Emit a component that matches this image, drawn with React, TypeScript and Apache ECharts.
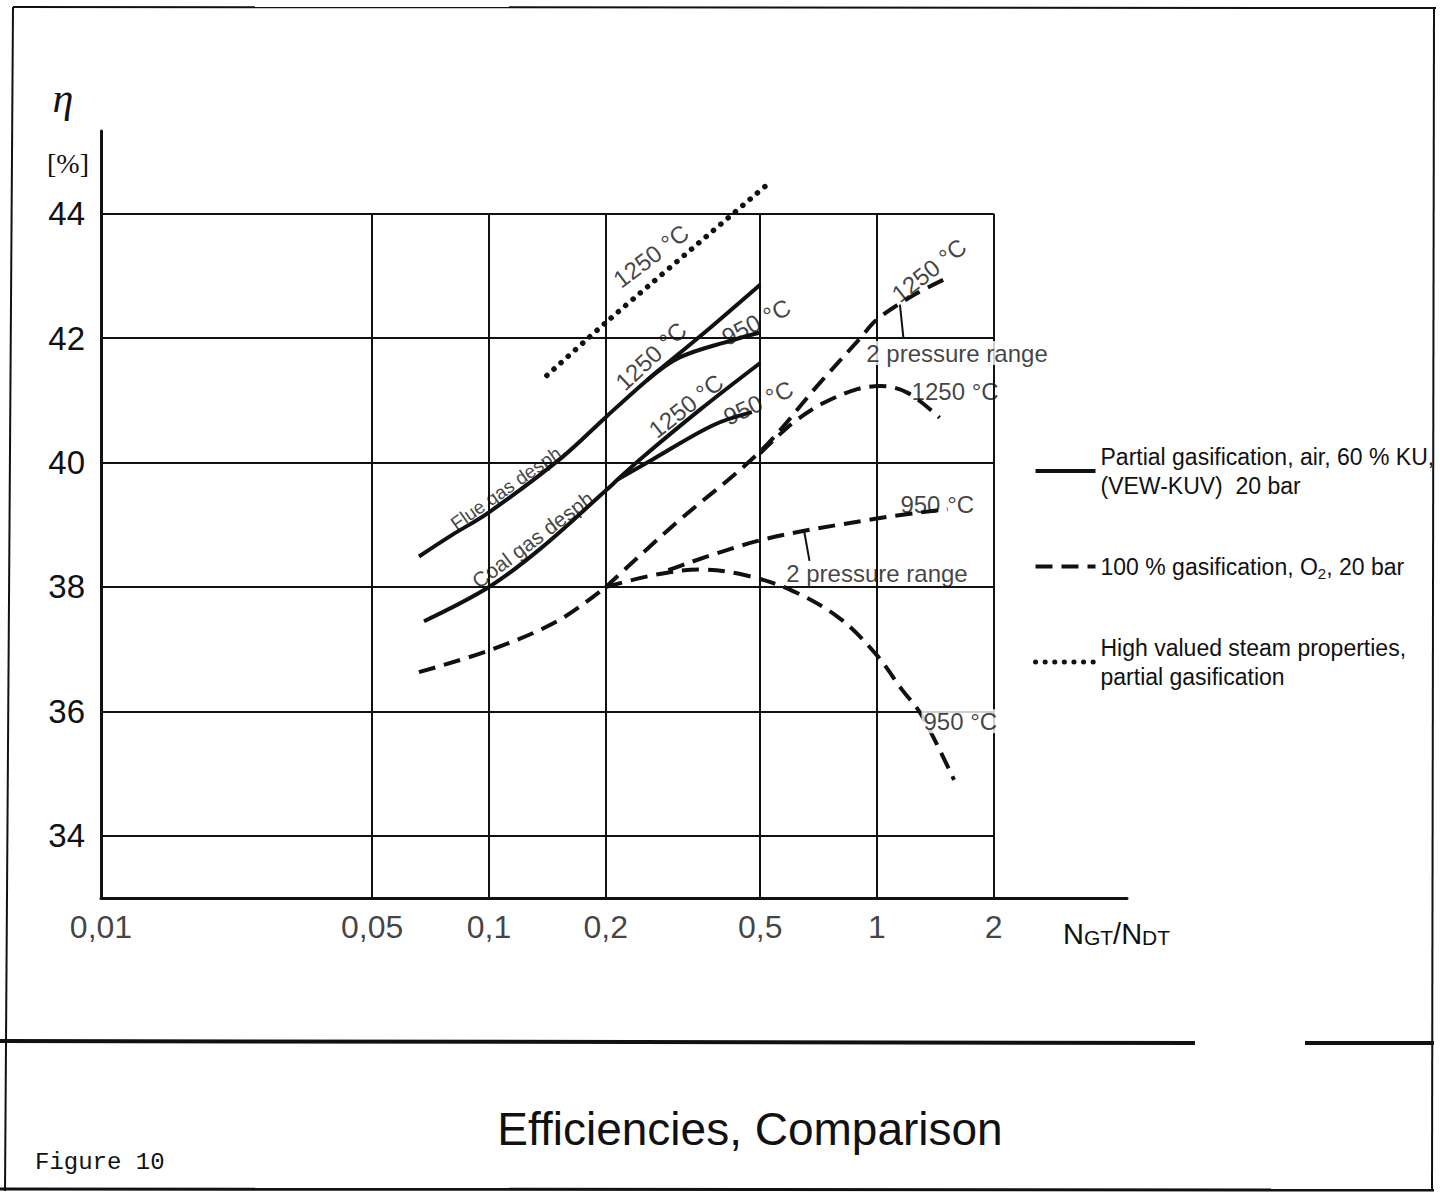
import React, { useEffect, useRef } from 'react';
import * as echarts from 'echarts';

// ---------- axes ----------
const X_TICKS = [0.01, 0.05, 0.1, 0.2, 0.5, 1, 2];
const X_TICK_LABELS = ['0,01', '0,05', '0,1', '0,2', '0,5', '1', '2'];
const Y_TICKS = [34, 36, 38, 40, 42, 44];
const X_MIN = 0.01;
const X_MAX = 4.41;
const Y_MIN = 33;
const Y_MAX = 45.33;

// ---------- legend ----------
const LEGEND_NAMES = [
  'Partial gasification, air, 60 % KU, (VEW-KUV) 20 bar',
  '100 % gasification, O2, 20 bar',
  'High valued steam properties, partial gasification',
];
const LEGEND_TEXTS = [
  'Partial gasification, air, 60 % KU,\n(VEW-KUV)  20 bar',
  '100 % gasification, O{sub|2}, 20 bar',
  'High valued steam properties,\npartial gasification',
];

// ---------- series values [N_GT/N_DT, eta %] ----------
// partial gasification, air (solid)
const flueGas1250 = [[0.066, 38.49], [0.08, 38.83], [0.1, 39.2], [0.154, 40.08], [0.2, 40.73], [0.255, 41.32], [0.35, 42.03], [0.5, 42.86]];
const flueGas950 = [[0.255, 41.32], [0.31, 41.69], [0.42, 41.96], [0.5, 42.09]];
const coalGas1250 = [[0.068, 37.45], [0.1, 38.0], [0.136, 38.62], [0.2, 39.55], [0.215, 39.73], [0.245, 40.05], [0.35, 40.85], [0.5, 41.6]];
const coalGas950 = [[0.215, 39.73], [0.264, 40.05], [0.378, 40.6], [0.476, 40.81]];
// 100 % gasification, O2 (dashed)
const o2Base = [[0.066, 36.63], [0.1, 36.98], [0.15, 37.45], [0.2, 38.0]];
const o2Pressure1250 = [[0.2, 38.0], [0.3, 39.0], [0.5, 40.18], [0.71, 41.27], [0.9, 41.98], [1.0, 42.3], [1.25, 42.7], [1.52, 42.97]];
const o2Temp1250 = [[0.5, 40.15], [0.55, 40.4], [0.62, 40.68], [0.73, 40.96], [0.89, 41.18], [1.02, 41.23], [1.2, 41.12], [1.45, 40.72]];
const o2Temp950 = [[0.2, 38.0], [0.27, 38.2], [0.35, 38.28], [0.45, 38.2], [0.6, 37.95], [0.8, 37.5], [1.0, 36.9], [1.16, 36.35], [1.3, 35.95], [1.58, 34.9]];
const o2Pressure950 = [[0.29, 38.27], [0.5, 38.75], [1.0, 39.1], [1.52, 39.25]];
// high valued steam properties (dotted)
const steam1250 = [[0.141, 41.4], [0.2, 42.25], [0.524, 44.48]];

// ---------- annotations (text, anchor in data units, rotation) ----------
const ANNOTATIONS = [
  { text: '1250 °C', at: [0.2615, 43.32], rotate: 37, size: 24 },
  { text: '1250 °C', at: [0.2615, 41.71], rotate: 43, size: 24 },
  { text: '950 °C', at: [0.488, 42.26], rotate: 27, size: 24 },
  { text: '1250 °C', at: [0.322, 40.91], rotate: 38, size: 24 },
  { text: '950 °C', at: [0.494, 40.96], rotate: 25, size: 24 },
  { text: 'Flue gas desph.', at: [0.112, 39.61], rotate: 35, size: 19 },
  { text: 'Coal gas desph.', at: [0.1314, 38.79], rotate: 37, size: 21 },
  { text: '1250 °C', at: [1.362, 43.09], rotate: 38, size: 24 },
  { text: '2 pressure range', at: [1.608, 41.76], rotate: 0, size: 24, bg: true },
  { text: '1250 °C', at: [1.59, 41.15], rotate: 0, size: 24 },
  { text: '950 °C', at: [1.43, 39.33], rotate: 0, size: 24 },
  { text: '2 pressure range', at: [1.0, 38.22], rotate: 0, size: 24 },
  { text: '950 °C', at: [1.64, 35.84], rotate: 0, size: 24, bg: true },
];
const LEADERS = [
  [[1.146, 42.54], [1.17, 42.0]],
  [[0.65, 38.88], [0.67, 38.42]],
];

const INK = '#111';
const SANS = '"Liberation Sans", Arial, Helvetica, sans-serif';

export default function App() {
  const ref = useRef<HTMLDivElement>(null);
  useEffect(() => {
    if (!ref.current) return;
    const chart = echarts.init(ref.current, undefined, { renderer: 'svg' });

    const solid = (data: number[][]) => ({
      type: 'line', name: LEGEND_NAMES[0], data, smooth: 0.35, symbol: 'none', z: 5,
      lineStyle: { color: INK, width: 4 }, itemStyle: { color: INK },
    });
    const dashed = (data: number[][]) => ({
      type: 'line', name: LEGEND_NAMES[1], data, smooth: 0.35, symbol: 'none', z: 5,
      lineStyle: { color: INK, width: 4, type: [17, 9] }, itemStyle: { color: INK },
    });
    const dotted = (data: number[][]) => ({
      type: 'line', name: LEGEND_NAMES[2], data, smooth: 0.2, symbol: 'none', z: 5,
      lineStyle: { color: INK, width: 5.5, type: [0.1, 9.5], cap: 'round' }, itemStyle: { color: INK },
    });

    const gridLines: any[] = [];
    X_TICKS.slice(1).forEach((x) => gridLines.push([{ coord: [x, Y_MIN] }, { coord: [x, Y_TICKS[Y_TICKS.length - 1]] }]));
    Y_TICKS.forEach((y) => gridLines.push([{ coord: [X_MIN, y] }, { coord: [X_TICKS[X_TICKS.length - 1], y] }]));

    const option: any = {
      animation: false,
      backgroundColor: '#fff',
      grid: { left: 101, top: 131, width: 1026, height: 767, containLabel: false },
      xAxis: {
        type: 'log', logBase: 10, min: X_MIN, max: X_MAX,
        axisLine: { show: true, lineStyle: { color: INK, width: 3 } },
        axisTick: { show: false }, axisLabel: { show: false },
        splitLine: { show: false }, minorTick: { show: false }, minorSplitLine: { show: false },
      },
      yAxis: {
        type: 'value', min: Y_MIN, max: Y_MAX, interval: 1,
        axisLine: { show: true, lineStyle: { color: INK, width: 3 } },
        axisTick: { show: false }, splitLine: { show: false },
        axisLabel: {
          margin: 16, fontSize: 33, color: INK, fontFamily: SANS,
          showMaxLabel: false, showMinLabel: false,
          formatter: (v: number) => (Y_TICKS.indexOf(v) >= 0 ? String(v) : ''),
        },
      },
      legend: {
        orient: 'vertical', left: 1028, top: 437, itemWidth: 60, itemHeight: 14, itemGap: 52,
        selectedMode: false,
        itemStyle: { opacity: 0, color: 'rgba(0,0,0,0)', borderWidth: 0 },
        data: LEGEND_NAMES.map((n, i) => ({ name: n, lineStyle: { width: i === 2 ? 5 : 4 } })),
        formatter: (name: string) => LEGEND_TEXTS[LEGEND_NAMES.indexOf(name)],
        textStyle: {
          fontSize: 23, lineHeight: 29, color: INK, fontFamily: SANS,
          rich: { sub: { fontSize: 15, lineHeight: 16, verticalAlign: 'bottom', color: INK, fontFamily: SANS } },
        },
      },
      graphic: [
        // page frame
        { type: 'line', shape: { x1: 13, y1: 7, x2: 1436, y2: 8 }, style: { stroke: INK, lineWidth: 2 } },
        { type: 'line', shape: { x1: 13, y1: 7, x2: 5, y2: 1191 }, style: { stroke: INK, lineWidth: 2 } },
        { type: 'line', shape: { x1: 1434, y1: 8, x2: 1432, y2: 1191 }, style: { stroke: INK, lineWidth: 2 } },
        { type: 'line', shape: { x1: 0, y1: 1041, x2: 1195, y2: 1043 }, style: { stroke: INK, lineWidth: 4 } },
        { type: 'line', shape: { x1: 1305, y1: 1043, x2: 1434, y2: 1043 }, style: { stroke: INK, lineWidth: 4 } },
        { type: 'line', shape: { x1: 0, y1: 1189, x2: 1434, y2: 1190 }, style: { stroke: INK, lineWidth: 3 } },
        // axis titles
        { type: 'text', x: 63, y: 98, style: { text: 'η', fontSize: 42, fontStyle: 'italic', fontFamily: '"Liberation Serif", "DejaVu Serif", serif', fill: INK, align: 'center', verticalAlign: 'middle' } },
        { type: 'text', x: 68, y: 163, style: { text: '[%]', fontSize: 28, fontFamily: '"Liberation Serif", "DejaVu Serif", serif', fill: INK, align: 'center', verticalAlign: 'middle' } },
        {
          type: 'text', x: 1063, y: 948,
          style: {
            text: '{b|N}{s|GT}{b|/}{b|N}{s|DT}', fill: INK, align: 'left', verticalAlign: 'bottom',
            rich: {
              b: { fontSize: 29, lineHeight: 29, fontFamily: SANS, fill: INK, verticalAlign: 'bottom' },
              s: { fontSize: 21, lineHeight: 21, fontFamily: SANS, fill: INK, verticalAlign: 'bottom' },
            },
          },
        },
        // captions
        { type: 'text', x: 750, y: 1129, style: { text: 'Efficiencies, Comparison', fontSize: 46, fontFamily: SANS, fill: INK, align: 'center', verticalAlign: 'middle' } },
        { type: 'text', x: 35, y: 1162, style: { text: 'Figure 10', fontSize: 24, fontFamily: '"Liberation Mono", "DejaVu Sans Mono", monospace', fill: INK, align: 'left', verticalAlign: 'middle' } },
      ],
      series: [
        {
          type: 'line', name: 'grid', data: [], silent: true, z: 1,
          markLine: {
            silent: true, symbol: ['none', 'none'], label: { show: false },
            lineStyle: { color: INK, width: 2, type: 'solid' },
            emphasis: { disabled: true },
            data: gridLines,
          },
        },
        {
          type: 'line', name: 'leaders', data: [], silent: true, z: 6,
          markLine: {
            silent: true, symbol: ['none', 'none'], label: { show: false },
            lineStyle: { color: INK, width: 2, type: 'solid' },
            emphasis: { disabled: true },
            data: LEADERS.map(([a, b]) => [{ coord: a }, { coord: b }]),
          },
        },
        solid(flueGas1250),
        solid(flueGas950),
        solid(coalGas1250),
        solid(coalGas950),
        dashed(o2Base),
        dashed(o2Pressure1250),
        dashed(o2Temp1250),
        dashed(o2Temp950),
        dashed(o2Pressure950),
        dotted(steam1250),
        {
          type: 'scatter', name: 'xticks', silent: true, z: 7,
          symbolSize: 1, itemStyle: { color: 'rgba(0,0,0,0)' },
          data: X_TICKS.map((x) => [x, Y_MIN]),
          label: {
            show: true, position: 'bottom', distance: 12,
            formatter: (p: any) => X_TICK_LABELS[p.dataIndex],
            fontSize: 32, color: INK, fontFamily: SANS,
          },
        },
        {
          type: 'scatter', name: 'annotations', silent: true, z: 8,
          symbolSize: 1, itemStyle: { color: 'rgba(0,0,0,0)' },
          data: ANNOTATIONS.map((a) => ({
            value: a.at,
            label: {
              show: true, position: 'inside', formatter: a.text, rotate: a.rotate,
              fontSize: a.size, color: INK, fontFamily: SANS,
              backgroundColor: a.bg ? '#fff' : 'transparent', padding: a.bg ? [0, 2] : 0,
            },
          })),
        },
      ],
    };
    chart.setOption(option);
    return () => chart.dispose();
  }, []);
  return <div ref={ref} style={{ position: 'fixed', left: 0, top: 0, width: 1447, height: 1199, background: '#fff' }} />;
}
